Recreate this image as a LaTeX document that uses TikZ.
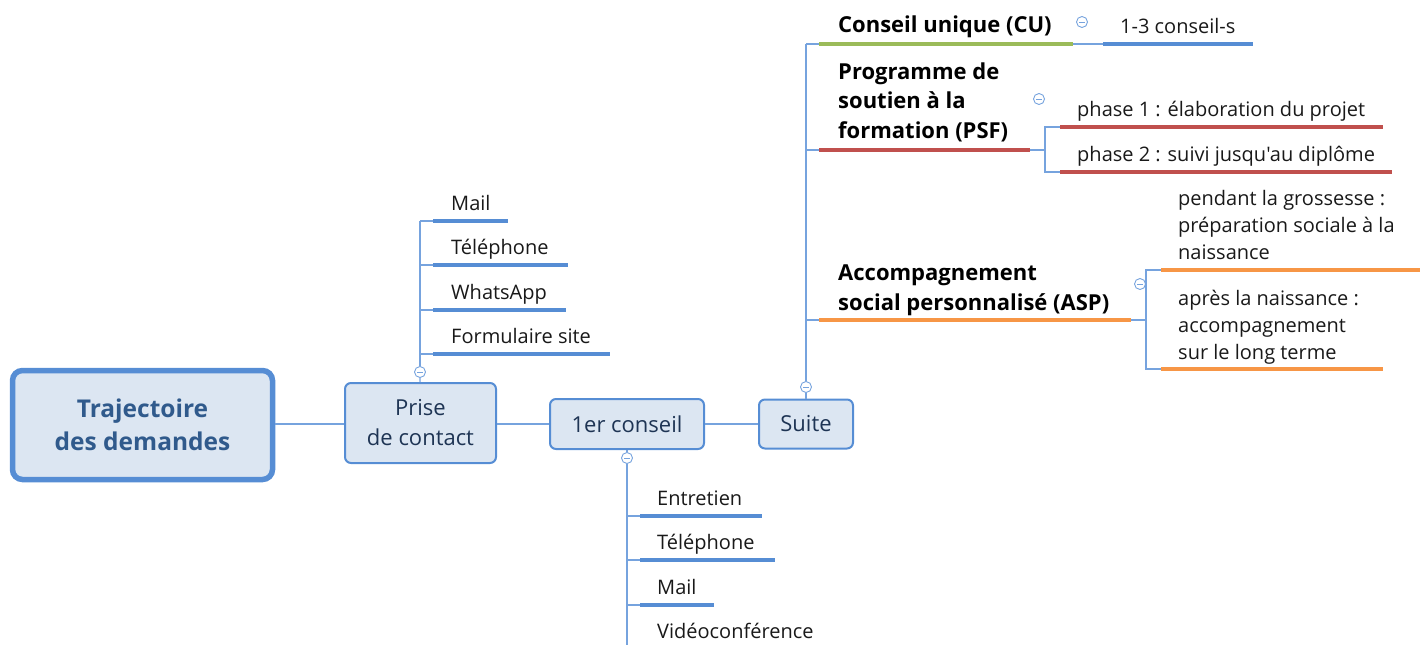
\documentclass[tikz,border=0pt]{standalone}
\usepackage{fontspec}
\setmainfont{Open Sans}[Ligatures=TeXOff]
\usetikzlibrary{positioning}

\definecolor{mapBlue}{RGB}{86,141,212}
\definecolor{boxFill}{RGB}{220,230,242}
\definecolor{rootText}{RGB}{48,90,140}
\definecolor{boxText}{RGB}{30,52,84}
\definecolor{lineBlue}{RGB}{118,163,222}
\definecolor{leafText}{RGB}{25,25,25}
\definecolor{cuGreen}{RGB}{155,187,89}
\definecolor{psfRed}{RGB}{192,80,77}
\definecolor{aspOrange}{RGB}{247,150,70}

\tikzset{
  topic/.style={draw=mapBlue, line width=2pt, fill=boxFill, rounded corners=6pt, text=boxText,
    font=\fontsize{22}{30}\selectfont, align=center, inner sep=0},
  root/.style={topic, line width=5.5pt, rounded corners=10pt, text=rootText,
    font=\fontsize{24.5}{33}\selectfont\bfseries},
  leaf/.style={anchor=base west, inner sep=0, align=left, text=leafText,
    font=\fontsize{20}{27}\selectfont},
  branch/.style={leaf, text=black, font=\fontsize{22}{29.5}\selectfont\bfseries},
  conn/.style={draw=lineBlue, line width=1.2pt},
  uline/.style={line width=3.5pt},
  toggle/.style={circle, draw=lineBlue, fill=white, line width=0.9pt, minimum size=11pt, inner sep=0,
    path picture={\draw[lineBlue, line width=0.9pt]
      ([xshift=-3pt]path picture bounding box.center) -- ([xshift=3pt]path picture bounding box.center);}},
}

\begin{document}
\begin{tikzpicture}[x=1pt, y=-1pt]
        \useasboundingbox (0,0) rectangle (1426,645);

        % --- Main line of topics ---
        \node[root, minimum width=260, minimum height=109] (traj) at (142.5,425) {Trajectoire\\des demandes};
        \node[topic, minimum width=151, minimum height=80] (prise) at (420.5,423) {Prise\\de contact};
        \node[topic, minimum width=154, minimum height=50] (conseil) at (627,424) {1er conseil};
        \node[topic, minimum width=94, minimum height=49] (suite) at (806,424) {Suite};
        \draw[conn] (traj.east |- conseil) -- (prise.west |- conseil);
        \draw[conn] (prise.east |- conseil) -- (conseil.west);
        \draw[conn] (conseil.east) -- (suite.west);
        % ---

        % --- Prise de contact: channels ---
        \coordinate (pTop) at (420,221);
        \node[toggle] (tPrise) at (420,372) {};
        \draw[conn] (tPrise) -- (prise);
        \draw[conn] (tPrise.north) -- (pTop);
        \coordinate (pMail) at (433,221);
        \coordinate (pTel) at (433,265);
        \coordinate (pWhats) at (433,310);
        \coordinate (pForm) at (433,354);
        \draw[conn] (pMail -| pTop) -- (pMail);
        \draw[conn] (pTel -| pTop) -- (pTel);
        \draw[conn] (pWhats -| pTop) -- (pWhats);
        \draw[conn] (pForm -| pTop) -- (pForm);
        \draw[uline, mapBlue] (pMail) -- ++(75,0);
        \draw[uline, mapBlue] (pTel) -- ++(135,0);
        \draw[uline, mapBlue] (pWhats) -- ++(133,0);
        \draw[uline, mapBlue] (pForm) -- ++(177,0);
        \node[leaf] (pMailTxt) at (451,210) {Mail};
        \node[leaf] (pTelTxt) at (451,254) {Téléphone};
        \node[leaf] (pWhatsTxt) at (451,299) {WhatsApp};
        \node[leaf] (pFormTxt) at (451,343) {Formulaire site};
        % ---

        % --- 1er conseil: forms of the first meeting ---
        \coordinate (cBottom) at (627,645);
        \node[toggle] (tConseil) at (627,458) {};
        \draw[conn] (conseil) -- (tConseil);
        \draw[conn] (tConseil.south) -- (cBottom);
        \coordinate (cEntr) at (640,516);
        \coordinate (cTel) at (640,560);
        \coordinate (cMail) at (640,605);
        \draw[conn] (cEntr -| cBottom) -- (cEntr);
        \draw[conn] (cTel -| cBottom) -- (cTel);
        \draw[conn] (cMail -| cBottom) -- (cMail);
        \draw[uline, mapBlue] (cEntr) -- ++(122,0);
        \draw[uline, mapBlue] (cTel) -- ++(135,0);
        \draw[uline, mapBlue] (cMail) -- ++(74,0);
        \node[leaf] (cEntrTxt) at (657,505) {Entretien};
        \node[leaf] (cTelTxt) at (657,549) {Téléphone};
        \node[leaf] (cMailTxt) at (657,594) {Mail};
        \node[leaf] (cVisioTxt) at (657,638) {Vidéoconférence};
        % ---

        % --- Suite: the three programmes ---
        \coordinate (sTop) at (806,44);
        \node[toggle] (tSuite) at (806,387) {};
        \draw[conn] (tSuite) -- (suite);
        \draw[conn] (tSuite.north) -- (sTop);
        \coordinate (sCU) at (819,44);
        \coordinate (sPSF) at (819,150);
        \coordinate (sASP) at (819,320);
        \draw[conn] (sTop) -- (sCU);
        \draw[conn] (sPSF -| sTop) -- (sPSF);
        \draw[conn] (sASP -| sTop) -- (sASP);
        \draw[uline, cuGreen] (sCU) -- ++(254,0) coordinate (sCUend);
        \draw[uline, psfRed] (sPSF) -- ++(211,0) coordinate (sPSFend);
        \draw[uline, aspOrange] (sASP) -- ++(312,0) coordinate (sASPend);
        \node[branch] (cuTxt) at (838,32) {Conseil unique (CU)};
        \node[branch] (psfTxt) at (838,138) {Programme de\\soutien à la\\formation (PSF)};
        \node[branch] (aspTxt) at (838,310) {Accompagnement\\social personnalisé (ASP)};
        \node[toggle] (tCU) at (1082,22) {};
        \node[toggle] (tPSF) at (1039,99) {};
        \node[toggle] (tASP) at (1140,284) {};
        % ---

        % --- CU detail ---
        \coordinate (cuOne) at (1103,44);
        \draw[conn] (sCUend) -- (cuOne);
        \draw[uline, mapBlue] (cuOne) -- ++(150,0);
        \node[leaf] (cuOneTxt) at (1120,33) {1-3 conseil-s};
        % ---

        % --- PSF phases ---
        \coordinate (psfFork) at (1045,150);
        \coordinate (psfOne) at (1060,127);
        \coordinate (psfTwo) at (1060,172);
        \draw[conn] (sPSFend) -- (psfFork);
        \draw[conn] (psfOne) -| (psfFork) |- (psfTwo);
        \draw[uline, psfRed] (psfOne) -- ++(323,0);
        \draw[uline, psfRed] (psfTwo) -- ++(332,0);
        \node[leaf] (psfOneTxt) at (1077,116) {phase 1 : élaboration du projet};
        \node[leaf] (psfTwoTxt) at (1077,161) {phase 2 : suivi jusqu'au diplôme};
        % ---

        % --- ASP periods ---
        \coordinate (aspFork) at (1146,320);
        \coordinate (aspOne) at (1161,270);
        \coordinate (aspTwo) at (1161,369);
        \draw[conn] (sASPend) -- (aspFork);
        \draw[conn] (aspOne) -| (aspFork) |- (aspTwo);
        \draw[uline, aspOrange] (aspOne) -- ++(259,0);
        \draw[uline, aspOrange] (aspTwo) -- ++(222,0);
        \node[leaf] (aspOneTxt) at (1178,259) {pendant la grossesse :\\préparation sociale à la\\naissance};
        \node[leaf] (aspTwoTxt) at (1178,359) {après la naissance :\\accompagnement\\sur le long terme};
        % ---
\end{tikzpicture}
\end{document}
